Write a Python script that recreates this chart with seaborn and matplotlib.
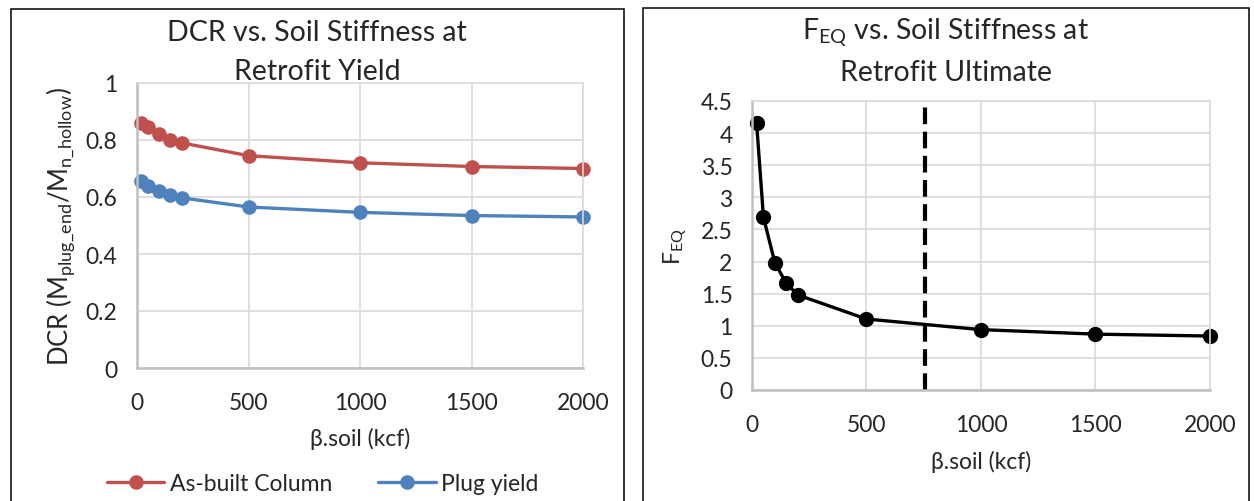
import numpy as np
import pandas as pd
import seaborn as sns
import matplotlib.pyplot as plt
from matplotlib.patches import Rectangle

# dados
beta_soil = [20, 50, 100, 150, 200, 500, 1000, 1500, 2000]
dcr_asbuilt = [0.86, 0.845, 0.82, 0.80, 0.79, 0.745, 0.72, 0.707, 0.70]
dcr_plug = [0.655, 0.64, 0.62, 0.608, 0.597, 0.565, 0.546, 0.535, 0.53]
feq = [4.16, 2.69, 1.98, 1.66, 1.48, 1.105, 0.94, 0.87, 0.84]
beta_limite = 755

xticks = [0, 500, 1000, 1500, 2000]
yticks_dcr = [0, 0.2, 0.4, 0.6, 0.8, 1]
yticks_feq = [0, 0.5, 1, 1.5, 2, 2.5, 3, 3.5, 4, 4.5]

sns.set_style('white')
plt.rcParams['font.family'] = ['Lato', 'DejaVu Sans']
plt.rcParams['mathtext.fontset'] = 'custom'
plt.rcParams['mathtext.rm'] = 'Lato'

VERMELHO = '#C0504D'
AZUL = '#4F81BD'
GRADE = '#d9d9d9'
EIXO = '#bfbfbf'
W, H = 1254, 502
FS = 16.5

fig = plt.figure(figsize=(W / 100, H / 100), dpi=100)

# molduras dos dois painéis
fig.add_artist(Rectangle((11 / W, -0.02), 613 / W, 1.02 - 10 / H, transform=fig.transFigure,
                         fill=False, edgecolor='black', linewidth=1.1))
fig.add_artist(Rectangle((643 / W, -0.02), 606 / W, 1.02 - 9 / H, transform=fig.transFigure,
                         fill=False, edgecolor='black', linewidth=1.1))

ax1 = fig.add_axes([137 / W, 1 - 369 / H, 446 / W, 285 / H])
ax2 = fig.add_axes([752 / W, 1 - 391 / H, 458 / W, 289 / H])


def estilo(ax):
    ax.grid(True, color=GRADE, linewidth=1.2)
    ax.set_axisbelow(True)
    for s in ['top', 'right']:
        ax.spines[s].set_color(GRADE)
        ax.spines[s].set_linewidth(1.2)
    for s in ['left', 'bottom']:
        ax.spines[s].set_color(EIXO)
        ax.spines[s].set_linewidth(1.8)
    ax.tick_params(axis='x', length=0, labelsize=FS, pad=17)
    ax.tick_params(axis='y', length=0, labelsize=FS, pad=14)
    for ln in ax.get_lines():
        ln.set_clip_on(False)


# painel esquerdo: DCR
df = pd.DataFrame({'beta': beta_soil * 2,
                   'dcr': dcr_asbuilt + dcr_plug,
                   'serie': ['As-built Column'] * len(beta_soil) + ['Plug yield'] * len(beta_soil)})
sns.lineplot(data=df, x='beta', y='dcr', hue='serie', palette=[VERMELHO, AZUL],
             marker='o', markersize=10.5, markeredgewidth=0, linewidth=2.4, ax=ax1, legend=False)
ax1.set_xlim(0, 2000)
ax1.set_ylim(0, 1)
ax1.set_xticks(xticks)
ax1.set_yticks(yticks_dcr)
ax1.set_yticklabels(['0', '0.2', '0.4', '0.6', '0.8', '1'])
estilo(ax1)
ax1.set_xlabel('β.soil (kcf)', fontsize=FS, labelpad=10)
ax1.set_ylabel(r'DCR (M$_{\mathregular{plug\_end}}$/M$_{\mathregular{n\_hollow}}$)', fontsize=18.5, labelpad=6)

linhas = ax1.get_lines()
fig.legend(linhas[:2], ['As-built Column', 'Plug yield'], loc='center',
           bbox_to_anchor=(323 / W, 1 - 485 / H), ncol=2, frameon=False, fontsize=FS,
           handlelength=2.5, handletextpad=0.25, columnspacing=2.0)

fig.text(317 / W, 1 - 33 / H, 'DCR vs. Soil Stiffness at', ha='center', va='center', fontsize=20.5)
fig.text(317 / W, 1 - 72 / H, 'Retrofit Yield', ha='center', va='center', fontsize=20.5)

# painel direito: F_EQ
sns.lineplot(x=beta_soil, y=feq, color='black', marker='o', markersize=11,
             markeredgewidth=0, linewidth=2.4, ax=ax2)
ax2.axvline(beta_limite, color='black', linewidth=3, linestyle=(0, (4, 1.8)))
ax2.set_xlim(0, 2000)
ax2.set_ylim(0, 4.5)
ax2.set_xticks(xticks)
ax2.set_yticks(yticks_feq)
ax2.set_yticklabels(['0', '0.5', '1', '1.5', '2', '2.5', '3', '3.5', '4', '4.5'])
estilo(ax2)
ax2.get_lines()[-1].set_clip_on(True)
ax2.set_xlabel('β.soil (kcf)', fontsize=FS, labelpad=11)
ax2.set_ylabel(r'F$_{\mathregular{EQ}}$', fontsize=FS, labelpad=8)

fig.text(946 / W, 1 - 33 / H, r'F$_{\mathregular{EQ}}$ vs. Soil Stiffness at', ha='center', va='center', fontsize=20.5)
fig.text(946 / W, 1 - 73 / H, 'Retrofit Ultimate', ha='center', va='center', fontsize=20.5)

fig.savefig('out.png', dpi=100)
plt.close(fig)
